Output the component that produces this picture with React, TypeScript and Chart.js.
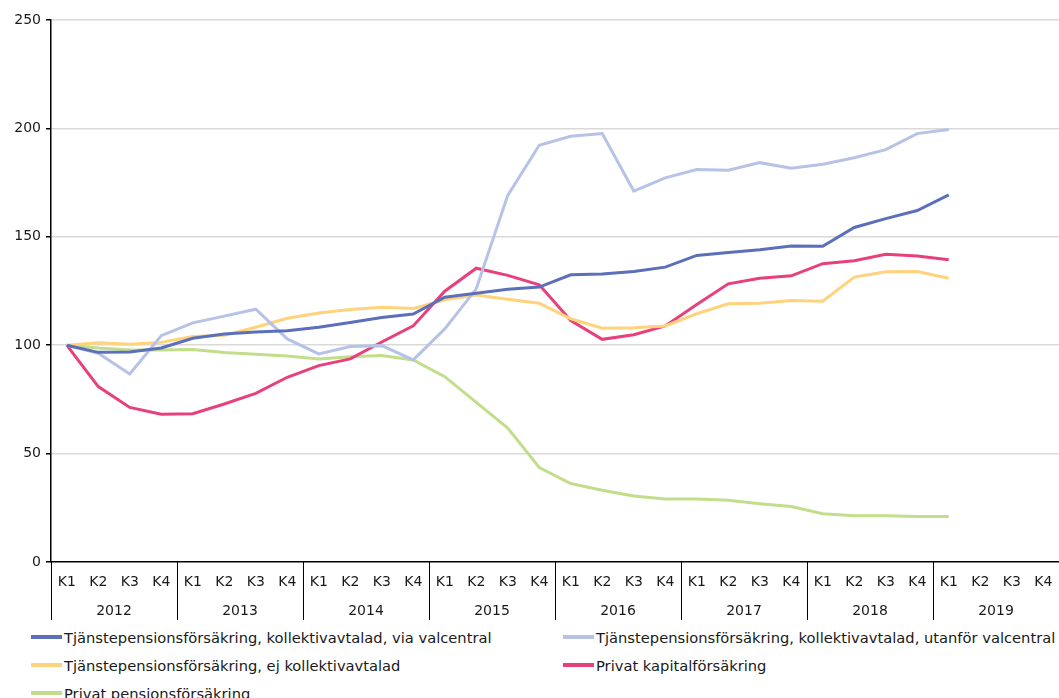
import React, { useEffect, useRef } from "react";
import { Chart, registerables } from "chart.js";

Chart.register(...registerables);

const quarters = [
  "K1", "K2", "K3", "K4", "K1", "K2", "K3", "K4",
  "K1", "K2", "K3", "K4", "K1", "K2", "K3", "K4",
  "K1", "K2", "K3", "K4", "K1", "K2", "K3", "K4",
  "K1", "K2", "K3", "K4", "K1", "K2", "K3", "K4",
];
const years = ["2012", "2013", "2014", "2015", "2016", "2017", "2018", "2019"];
const yTicks = [0, 50, 100, 150, 200, 250];

const viaValcentral = [
  100, 96.7, 96.9, 98.7, 103.2, 105.2, 106.1, 106.7, 108.3, 110.5, 112.8, 114.4,
  122.1, 124.0, 125.8, 126.8, 132.5, 132.8, 134.0, 136.0, 141.4, 142.8, 144.0, 145.7,
  145.6, 154.3, 158.4, 162.1, 169.3,
];
const utanforValcentral = [
  100, 96.3, 86.7, 104.4, 110.3, 113.4, 116.6, 102.9, 96.0, 99.4, 99.8, 93.2,
  107.5, 126.0, 169.1, 192.2, 196.4, 197.6, 171.1, 177.2, 181.0, 180.7, 184.2, 181.6,
  183.5, 186.5, 190.2, 197.6, 199.5,
];
const ejKollektivavtalad = [
  100, 101.1, 100.4, 101.3, 104.0, 104.6, 108.3, 112.4, 114.9, 116.5, 117.5, 116.9,
  120.9, 123.2, 121.2, 119.4, 112.2, 107.8, 108.0, 108.9, 114.5, 119.1, 119.4, 120.6,
  120.3, 131.4, 133.9, 134.0, 130.9,
];
const privatKapital = [
  100, 80.9, 71.3, 68.2, 68.4, 72.9, 77.8, 85.2, 90.6, 93.7, 101.5, 108.9,
  124.9, 135.5, 132.2, 127.9, 111.4, 102.7, 104.8, 108.9, 118.8, 128.3, 130.9, 132.0,
  137.6, 139.0, 141.9, 141.1, 139.4,
];
const privatPension = [
  100, 98.7, 97.8, 97.8, 98.0, 96.6, 95.8, 95.0, 93.6, 94.7, 95.2, 93.2,
  85.5, 73.6, 61.8, 43.6, 36.2, 33.1, 30.4, 29.1, 29.1, 28.5, 26.9, 25.6,
  22.3, 21.3, 21.3, 21.0, 21.0,
];

const seriesNames = [
  "Tjänstepensionsförsäkring, kollektivavtalad, via valcentral",
  "Tjänstepensionsförsäkring, kollektivavtalad, utanför valcentral",
  "Tjänstepensionsförsäkring, ej kollektivavtalad",
  "Privat kapitalförsäkring",
  "Privat pensionsförsäkring",
];
const seriesColors = ["#5b6fbb", "#b6c3e6", "#ffd27c", "#e8407d", "#c2de8a"];
const seriesData = [viaValcentral, utanforValcentral, ejKollektivavtalad, privatKapital, privatPension];

const FONT = "'DejaVu Sans', Verdana, sans-serif";
const TEXT = "#1a1a1a";

const separatorPlugin = {
  id: "yearSeparators",
  afterDraw(chart: any) {
    const x2 = chart.scales.x2;
    const area = chart.chartArea;
    if (!x2) return;
    const step = x2.getPixelForValue(1) - x2.getPixelForValue(0);
    const ctx = chart.ctx;
    ctx.save();
    ctx.strokeStyle = "#000";
    ctx.lineWidth = 1;
    for (let g = 0; g < years.length; g++) {
      const px = Math.round(x2.getPixelForValue(g) - step / 2) + 0.5;
      ctx.beginPath();
      ctx.moveTo(px, area.bottom);
      ctx.lineTo(px, x2.bottom);
      ctx.stroke();
    }
    ctx.restore();
  },
};

function LineChart() {
  const ref = useRef<HTMLCanvasElement | null>(null);
  useEffect(() => {
    if (!ref.current) return;
    const chart = new Chart(ref.current, {
      type: "line",
      data: {
        labels: quarters,
        datasets: seriesNames.map((name, i) => ({
          label: name,
          data: seriesData[i],
          borderColor: seriesColors[i],
          backgroundColor: seriesColors[i],
          borderWidth: 3,
          pointRadius: 0,
          tension: 0,
          xAxisID: "x",
          yAxisID: "y",
        })),
      },
      options: {
        animation: false,
        responsive: false,
        maintainAspectRatio: false,
        layout: { padding: { top: 20, left: 0, right: 0, bottom: 0 } },
        plugins: {
          legend: { display: false },
          tooltip: { enabled: false },
        },
        scales: {
          y: {
            min: 0,
            max: 250,
            afterBuildTicks: (s: any) => {
              s.ticks = yTicks.map((v) => ({ value: v }));
            },
            afterFit: (s: any) => {
              s.width = 51;
            },
            grid: {
              color: (c: any) => (c.tick && c.tick.value === 0 ? "rgba(0,0,0,0)" : "#d9d9d9"),
              lineWidth: 1.5,
              tickColor: "#000",
              tickLength: 5,
            },
            border: { display: true, color: "#000", width: 1.5 },
            ticks: {
              color: TEXT,
              padding: 5,
              font: { family: FONT, size: 14 },
            },
          },
          x: {
            type: "category",
            offset: true,
            grid: { display: false, drawTicks: false },
            border: { display: true, color: "#000", width: 1.5 },
            afterFit: (s: any) => {
              s.height = 34;
              s.paddingLeft = 0;
              s.paddingRight = 0;
            },
            ticks: {
              color: TEXT,
              padding: 12,
              maxRotation: 0,
              autoSkip: false,
              font: { family: FONT, size: 14 },
            },
          },
          x2: {
            type: "category",
            labels: years,
            position: "bottom",
            offset: true,
            grid: { display: false, drawTicks: false },
            border: { display: false },
            afterFit: (s: any) => {
              s.height = 24;
              s.paddingLeft = 0;
              s.paddingRight = 0;
            },
            ticks: {
              color: TEXT,
              padding: 7,
              maxRotation: 0,
              autoSkip: false,
              font: { family: FONT, size: 14 },
            },
          },
        },
      },
      plugins: [separatorPlugin],
    } as any);
    return () => chart.destroy();
  }, []);
  return <canvas ref={ref} width={1059} height={620} style={{ display: "block", width: 1059, height: 620 }} />;
}

export default function App() {
  return (
    <div
      style={{
        position: "absolute",
        left: 0,
        top: 0,
        width: 1059,
        height: 698,
        overflow: "hidden",
        background: "#fff",
      }}
    >
      <LineChart />
      <div
        style={{
          display: "grid",
          gridTemplateColumns: "532px 1fr",
          paddingLeft: 31,
          paddingTop: 3,
          fontFamily: FONT,
          fontSize: 14.7,
          color: TEXT,
        }}
      >
        {seriesNames.map((name, i) => (
          <div key={name} style={{ display: "flex", alignItems: "center", height: 28, whiteSpace: "nowrap" }}>
            <span style={{ display: "inline-block", width: 31, height: 4, background: seriesColors[i], marginRight: 2 }} />
            <span>{name}</span>
          </div>
        ))}
      </div>
    </div>
  );
}
